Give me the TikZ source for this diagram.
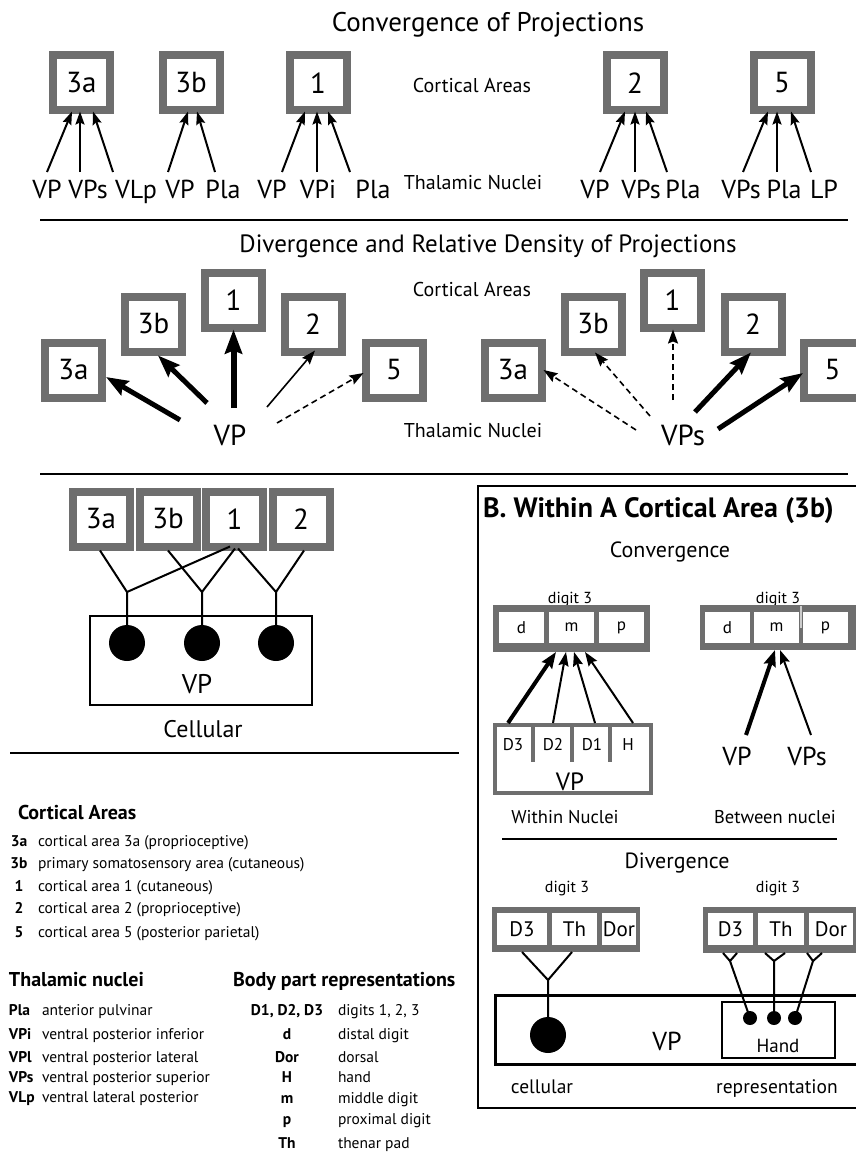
\documentclass[tikz,border=0pt]{standalone}
\usepackage{fontspec}
\setmainfont{PT Sans}
\usetikzlibrary{arrows.meta}
\definecolor{boxgray}{HTML}{6E6E6E}
\begin{document}
\begin{tikzpicture}[x=1pt,y=-1pt,
  every node/.style={inner sep=0pt, outer sep=0pt},
  tx/.style={anchor=base, font=\fontsize{#1}{#1}\selectfont},
  fs/.style={font=\fontsize{#1}{#1}\selectfont},
  cbox/.style={draw=boxgray, line width=8pt, fill=white, minimum width=57pt, minimum height=55pt, outer sep=4pt, font=\fontsize{29}{29}\selectfont},
  tlab/.style={anchor=base, font=\fontsize{26}{26}\selectfont, text height=19pt, text depth=5pt, inner ysep=7pt},
  blab/.style={anchor=base, font=\fontsize{26}{26}\selectfont, text height=18pt, text depth=5pt, inner ysep=12pt},
  cv/.style={line width=2pt, -{Stealth[length=13pt,width=9pt,inset=2pt]}},
  thin arr/.style={line width=1.6pt, -{Stealth[length=14pt,width=10pt,inset=2pt]}},
  thk/.style={line width=5pt, -{Stealth[length=22pt,width=16pt,inset=3pt]}},
  thkk/.style={line width=6pt, -{Stealth[length=24pt,width=17pt,inset=3pt]}},
  mthk/.style={line width=4pt, -{Stealth[length=16pt,width=12pt,inset=2pt]}},
  dsh/.style={dash pattern=on 6pt off 4pt},
  gbox/.style={fill=boxgray},
  cell/.style={fill=white, font=\fontsize{17}{17}\selectfont},
  conn/.style={line width=2pt},
  key/.style={anchor=base, font=\fontsize{15.5}{15.5}\selectfont\bfseries},
  val/.style={anchor=base west, font=\fontsize{15.5}{15.5}\selectfont},
  head/.style={anchor=base west, font=\fontsize{20}{20}\selectfont\bfseries}]
\useasboundingbox (0,0) rectangle (856,1153);
\clip (0,0) rectangle (856,1153);

% ---------------- Convergence of Projections ----------------
\node[tx=27] (t1) at (488,32) {Convergence of Projections};
\node[tx=20] (ca1) at (472,93) {Cortical Areas};
\node[tx=20] (tn1) at (473,189) {Thalamic Nuclei};

\node[cbox] (A3a) at (81.5,83) {3a};
\node[cbox] (A3b) at (191,83) {3b};
\node[cbox] (A1) at (318,83) {1};
\node[cbox] (A2) at (635,83) {2};
\node[cbox] (A5) at (782,83) {5};

\node[tlab] (a1) at (47,198) {VP};
\node[tlab] (a2) at (88,198) {VPs};
\node[tlab] (a3) at (136,198) {VLp};
\node[tlab] (b1) at (180,198) {VP};
\node[tlab] (b2) at (223,198) {Pla};
\node[tlab] (c1) at (272,198) {VP};
\node[tlab] (c2) at (318,198) {VPi};
\node[tlab] (c3) at (373,198) {Pla};
\node[tlab] (d1) at (595,198) {VP};
\node[tlab] (d2) at (641,198) {VPs};
\node[tlab] (d3) at (683,198) {Pla};
\node[tlab] (e1) at (741,198) {VPs};
\node[tlab] (e2) at (784,198) {Pla};
\node[tlab] (e3) at (824,198) {LP};

\draw[cv] (a1.north) -- ([xshift=-9.5pt,yshift=3pt]A3a.south);
\draw[cv] ([xshift=-8pt]a2.north) -- ([xshift=-1.5pt,yshift=3pt]A3a.south);
\draw[cv] ([xshift=-23pt]a3.north) -- ([xshift=11.5pt,yshift=3pt]A3a.south);
\draw[cv] ([xshift=-12pt]b1.north) -- ([xshift=-3pt,yshift=3pt]A3b.south);
\draw[cv] ([xshift=-8pt]b2.north) -- ([xshift=6pt,yshift=3pt]A3b.south);
\draw[cv] ([xshift=10pt]c1.north) -- ([xshift=-13pt,yshift=3pt]A1.south);
\draw[cv] ([xshift=-1pt]c2.north) -- ([xshift=-1pt,yshift=3pt]A1.south);
\draw[cv] ([xshift=-23pt]c3.north) -- ([xshift=10pt,yshift=3pt]A1.south);
\draw[cv] ([xshift=5pt]d1.north) -- ([xshift=-10pt,yshift=3pt]A2.south);
\draw[cv] ([xshift=-6pt]d2.north) -- ([xshift=0pt,yshift=3pt]A2.south);
\draw[cv] ([xshift=-16pt]d3.north) -- ([xshift=11pt,yshift=3pt]A2.south);
\draw[cv] ([xshift=2pt]e1.north) -- ([xshift=-14pt,yshift=3pt]A5.south);
\draw[cv] ([xshift=-7pt]e2.north) -- ([xshift=-5pt,yshift=3pt]A5.south);
\draw[cv] ([xshift=-13pt]e3.north) -- ([xshift=9pt,yshift=3pt]A5.south);

\draw[line width=1.6pt] (40,220) -- (848,220);

% ---------------- Divergence ----------------
\node[tx=25] (t2) at (488,252) {Divergence and Relative Density of Projections};
\node[tx=20] (ca2) at (472,296) {Cortical Areas};
\node[tx=20] (tn2) at (473,437) {Thalamic Nuclei};

\node[cbox] (L3a) at (73.5,370) {3a};
\node[cbox] (L3b) at (153.5,324) {3b};
\node[cbox] (L1) at (233.5,300) {1};
\node[cbox] (L2) at (313,324) {2};
\node[cbox] (L5) at (394,370) {5};
\node[tx=29] (VPl) at (230,445) {VP};

\coordinate (ls1) at (180,420);
\coordinate (ls2) at (207,403);
\coordinate (ls3) at (233.5,408);
\coordinate (ls4) at (267,407);
\coordinate (ls5) at (277,423);
\draw[thk] (ls1) -- ([yshift=-7pt]L3a.east);
\draw[thk] (ls2) -- ([xshift=4.5pt]L3b.south);
\draw[thkk] (ls3) -- ([yshift=2pt]L1.south);
\draw[thin arr] (ls4) -- ([xshift=2pt,yshift=5pt]L2.south);
\draw[thin arr, dsh] (ls5) -- ([xshift=2pt,yshift=-3pt]L5.west);

\node[cbox] (R3a) at (513,370) {3a};
\node[cbox] (R3b) at (593,324) {3b};
\node[cbox] (R1) at (672.5,300) {1};
\node[cbox] (R2) at (753,324) {2};
\node[cbox] (R5) at (832.5,370) {5};
\node[tx=29] (VPsr) at (683,445) {VPs};

\coordinate (rs1) at (636,430);
\coordinate (rs2) at (650,416);
\coordinate (rs3) at (673,400);
\coordinate (rs4) at (695,412);
\coordinate (rs5) at (718,429);
\draw[thin arr, dsh] (rs1) -- ([xshift=-2pt]R3a.east);
\draw[thin arr, dsh] (rs2) -- ([xshift=2pt,yshift=3pt]R3b.south);
\draw[thin arr, dsh] (rs3) -- ([xshift=0.5pt,yshift=2pt]R1.south);
\draw[thk] (rs4) -- ([xshift=-2pt,yshift=3pt]R2.south);
\draw[thk] (rs5) -- ([xshift=3pt,yshift=-3pt]R5.west);

\draw[line width=1.6pt] (40,474) -- (848,474);

% ---------------- Cellular ----------------
\node[cbox] (C3a) at (101,519) {3a};
\node[cbox] (C3b) at (168,519) {3b};
\node[cbox] (C1) at (234.5,519) {1};
\node[cbox] (C2) at (301,519) {2};

\draw[line width=1.3pt] (90,616) rectangle (312,705);
\node[tx=27] (cvp) at (197,693) {VP};
\node[tx=24] (cell) at (203,737) {Cellular};

\node[circle, fill=black, minimum size=36pt] (n1) at (127,643) {};
\node[circle, fill=black, minimum size=36pt] (n2) at (202,643) {};
\node[circle, fill=black, minimum size=36pt] (n3) at (276,643) {};
\coordinate (f1) at (127,592);
\coordinate (f2) at (202,592);
\coordinate (f3) at (276,592);
\draw[conn] ([xshift=-1pt]C3a.south) -- (f1) -- (n1.center);
\draw[conn] ([xshift=-4.5pt,yshift=4pt]C1.south) -- (f1);
\draw[conn] (C3b.south) -- (f2) -- (n2.center);
\draw[conn] ([xshift=0.5pt,yshift=2pt]C1.south) -- (f2);
\draw[conn] ([xshift=3.5pt,yshift=2pt]C1.south) -- (f3) -- (n3.center);
\draw[conn] ([xshift=3pt]C2.south) -- (f3);

\draw[line width=1.6pt] (10,753) -- (459,753);

% ---------------- B panel ----------------
\draw[line width=1.5pt] (478,486) rectangle (870,1108);
\node[anchor=base west, font=\fontsize{28}{28}\selectfont\bfseries] (Bt) at (483,517) {B. Within A Cortical Area (3b)};
\node[tx=22] (conv) at (670,557) {Convergence};

\node[tx=16] (dg1) at (570,603) {digit 3};
\node[gbox, minimum width=157pt, minimum height=47pt] (LD) at (571.5,628.5) {};
\node[cell, minimum width=45pt, minimum height=31pt] (Ld) at (521.5,627.5) {d};
\node[cell, minimum width=45pt, minimum height=31pt] (Lm) at (571.5,627.5) {m};
\node[cell, minimum width=45pt, minimum height=31pt] (Lp) at (621.5,627.5) {p};

\node[tx=16] (dg2) at (778,603) {digit 3};
\node[gbox, minimum width=157pt, minimum height=45pt] (RD) at (778.5,627.5) {};
\node[cell, minimum width=45pt, minimum height=31pt] (Rd) at (727.5,627.5) {d};
\node[cell, minimum width=45pt, minimum height=31pt] (Rm) at (776.5,627.5) {m};
\node[cell, minimum width=45pt, minimum height=31pt] (Rp) at (825.5,627.5) {p};
\draw[gray!40, line width=2pt] (800.5,606) -- (800.5,628);

\node[draw=boxgray, line width=4pt, minimum width=156pt, minimum height=68pt, outer sep=2pt] (LVP) at (573,759) {};
\draw[boxgray, line width=4pt] (533,723) -- (533,762);
\draw[boxgray, line width=4pt] (572,723) -- (572,762);
\draw[boxgray, line width=4pt] (610,723) -- (610,762);
\node[fs=17] (lD3) at (513,745) {D3};
\node[fs=17] (lD2) at (553,745) {D2};
\node[fs=17] (lD1) at (592,745) {D1};
\node[fs=17] (lH) at (628,745) {H};
\node[tx=25] (lvpt) at (570,790) {VP};

\draw[mthk] ([xshift=-65pt]LVP.north) -- ([xshift=-15.5pt]LD.south);
\draw[thin arr, line width=2pt] ([xshift=-20pt]LVP.north) -- ([xshift=-5.5pt]LD.south);
\draw[thin arr, line width=2pt] ([xshift=22pt]LVP.north) -- ([xshift=2.5pt]LD.south);
\draw[thin arr, line width=2pt] ([xshift=60pt]LVP.north) -- ([xshift=13.5pt]LD.south);

\node[blab] (RVP) at (737,765) {VP};
\node[blab] (RVPs) at (807,765) {VPs};
\draw[mthk] ([xshift=9pt]RVP.north) -- ([xshift=-3.5pt]RD.south);
\draw[thin arr, line width=2pt] ([xshift=4pt]RVPs.north) -- ([xshift=1.5pt]RD.south);

\node[tx=18.5] (wn) at (565,823) {Within Nuclei};
\node[tx=18.5] (bn) at (775,823) {Between nuclei};
\draw[line width=1.5pt] (502,839) -- (837,839);
\node[tx=22] (div) at (677,868) {Divergence};

\node[tx=16] (dg3) at (567,892) {digit 3};
\node[gbox, minimum width=148pt, minimum height=45pt] (dL) at (566,929.5) {};
\node[cell, fs=21, minimum width=50pt, minimum height=32pt] (dLD3) at (522,929) {D3};
\node[cell, fs=21, minimum width=45pt, minimum height=32pt] (dLTh) at (574.5,929) {Th};
\node[cell, fs=21, minimum width=34pt, minimum height=32pt] (dLDor) at (619,929) {Dor};

\node[tx=16] (dg4) at (778,892) {digit 3};
\node[gbox, minimum width=155pt, minimum height=46pt] (dR) at (780.5,930) {};
\node[cell, fs=21, minimum width=45pt, minimum height=32pt] (dRD3) at (730.5,929) {D3};
\node[cell, fs=21, minimum width=46pt, minimum height=32pt] (dRTh) at (781,929) {Th};
\node[cell, fs=21, minimum width=44pt, minimum height=32pt] (dRDor) at (831,929) {Dor};

\draw[line width=3pt] (495,995) rectangle (870,1064);
\draw[line width=1.5pt] (722,1002) rectangle (835,1058);
\node[tx=26] (dvp) at (667,1050) {VP};
\node[tx=19] (hand) at (778,1052) {Hand};

\node[circle, fill=black, minimum size=36pt] (cL) at (548,1035) {};
\coordinate (gL) at (548,980);
\draw[conn] ([xshift=-44pt]dL.south) -- (gL) -- (cL.center);
\draw[conn] ([xshift=6pt]dL.south) -- (gL);

\node[circle, fill=black, minimum size=14pt] (h1) at (750,1018) {};
\node[circle, fill=black, minimum size=14pt] (h2) at (774,1018) {};
\node[circle, fill=black, minimum size=14pt] (h3) at (795,1018) {};
\coordinate (g1) at (730,961);
\coordinate (g2) at (774,961);
\coordinate (g3) at (813,961);
\draw[conn] ([xshift=-57.5pt]dR.south) -- (g1) -- (h1.center);
\draw[conn] ([xshift=-43.5pt]dR.south) -- (g1);
\draw[conn] ([xshift=-15.5pt]dR.south) -- (g2) -- (h2.center);
\draw[conn] ([xshift=4.5pt]dR.south) -- (g2);
\draw[conn] ([xshift=26.5pt]dR.south) -- (g3) -- (h3.center);
\draw[conn] ([xshift=41.5pt]dR.south) -- (g3);

\node[tx=19.5] (cel2) at (542,1093) {cellular};
\node[tx=19.5] (rep) at (777,1093) {representation};

% ---------------- Legend ----------------
\node[head] (h1t) at (18,819) {Cortical Areas};
\node[key] (k1) at (19,846) {3a};
\node[val] (v1) at (38,846) {cortical area 3a (proprioceptive)};
\node[key] (k2) at (19,868) {3b};
\node[val] (v2) at (38,868) {primary somatosensory area (cutaneous)};
\node[key] (k3) at (19,891) {1};
\node[val] (v3) at (38,891) {cortical area 1 (cutaneous)};
\node[key] (k4) at (19,913) {2};
\node[val] (v4) at (38,913) {cortical area 2 (proprioceptive)};
\node[key] (k5) at (19,937) {5};
\node[val] (v5) at (38,937) {cortical area 5 (posterior parietal)};

\node[head] (h2t) at (9,986) {Thalamic nuclei};
\node[key, anchor=base west] (t1k) at (9,1015) {Pla};
\node[val] (t1v) at (42,1015) {anterior pulvinar};
\node[key, anchor=base west] (t2k) at (9,1039) {VPi};
\node[val] (t2v) at (42,1039) {ventral posterior inferior};
\node[key, anchor=base west] (t3k) at (9,1062) {VPl};
\node[val] (t3v) at (42,1062) {ventral posterior lateral};
\node[key, anchor=base west] (t4k) at (9,1082) {VPs};
\node[val] (t4v) at (42,1082) {ventral posterior superior};
\node[key, anchor=base west] (t5k) at (9,1102) {VLp};
\node[val] (t5v) at (42,1102) {ventral lateral posterior};

\node[head] (h3t) at (233,986) {Body part representations};
\node[key] (b1k) at (287,1015) {D1, D2, D3};
\node[val] (b1v) at (338,1015) {digits 1, 2, 3};
\node[key] (b2k) at (287,1039) {d};
\node[val] (b2v) at (338,1039) {distal digit};
\node[key] (b3k) at (287,1062) {Dor};
\node[val] (b3v) at (338,1062) {dorsal};
\node[key] (b4k) at (287,1082) {H};
\node[val] (b4v) at (338,1082) {hand};
\node[key] (b5k) at (287,1103) {m};
\node[val] (b5v) at (338,1103) {middle digit};
\node[key] (b6k) at (287,1124) {p};
\node[val] (b6v) at (338,1124) {proximal digit};
\node[key] (b7k) at (287,1148) {Th};
\node[val] (b7v) at (338,1148) {thenar pad};
\end{tikzpicture}
\end{document}
